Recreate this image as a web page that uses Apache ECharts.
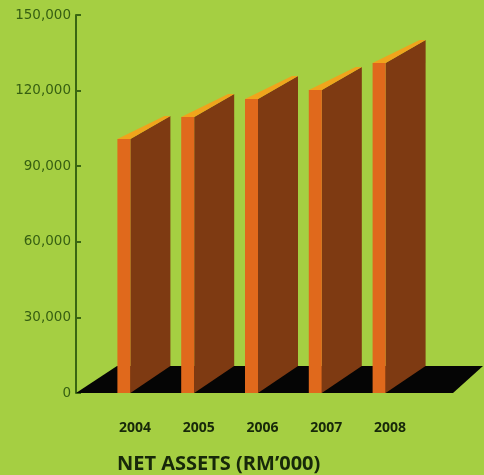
<!DOCTYPE html>
<html>
<head>
<meta charset="utf-8">
<script src="https://cdn.jsdelivr.net/npm/echarts@6/dist/echarts.min.js"></script>
<style>
    html, body { margin: 0; padding: 0; background: #a5cf42; }
    #chart { width: 484px; height: 475px; }
</style>
</head>
<body>
<div id="chart"></div>
<script>
// data
const years = ['2004', '2005', '2006', '2007', '2008'];
const net_assets = [100800, 109500, 116700, 120200, 131000];
const y_ticks = [0, 30000, 60000, 90000, 120000, 150000];

const colors = {
    bg: '#a5cf42',
    front: '#e0691c',
    side: '#7e3a12',
    top: '#f0a41c',
    floor: '#050505',
    axis: '#3a6612',
    tick_label: '#365f12',
    text: '#17280a'
};

// bar shape (pixels)
const front_w = 13;
const front_off = -17.5;
const depth_x = 40;
const depth_y_top = 23;
const depth_y_bottom = 27;

function render_bar(params, api) {
    let top = api.coord([api.value(0), api.value(1)]);
    let base = api.coord([api.value(0), 0]);
    let fl = top[0] + front_off;
    let fr = fl + front_w;
    let t = top[1];
    let b = base[1];
    return {
        type: 'group',
        children: [
            {
                type: 'polygon',
                shape: { points: [[fr, t], [fr + depth_x, t - depth_y_top], [fr + depth_x, b - depth_y_bottom], [fr, b]] },
                style: { fill: colors.side }
            },
            {
                type: 'polygon',
                shape: { points: [[fl, t], [fr, t], [fr, b], [fl, b]] },
                style: { fill: colors.front }
            },
            {
                type: 'polygon',
                shape: { points: [[fl, t], [fr, t], [fr + depth_x, t - depth_y_top], [fr + depth_x - 6, t - depth_y_top]] },
                style: { fill: colors.top }
            }
        ]
    };
}

function render_floor(params, api) {
    let cs = params.coordSys;
    let y0 = cs.y + cs.height;
    let left = cs.x - 27;
    let right = cs.x + cs.width;
    return {
        type: 'polygon',
        shape: {
            points: [
                [left, y0],
                [right + 31, y0],
                [right + 61, y0 - depth_y_bottom],
                [left + 41, y0 - depth_y_bottom]
            ]
        },
        style: { fill: colors.floor }
    };
}

let chart = echarts.init(document.getElementById('chart'));
chart.setOption({
    backgroundColor: colors.bg,
    animation: false,
    title: {
        text: 'NET ASSETS (RM’000)',
        left: 117,
        top: 454,
        padding: 0,
        textStyle: {
            fontFamily: 'Open Sans',
            fontWeight: 'bold',
            fontSize: 20,
            color: colors.text
        }
    },
    grid: {
        left: 103,
        right: 62,
        top: 15,
        bottom: 82
    },
    xAxis: {
        type: 'category',
        data: years,
        axisLine: { show: false },
        axisTick: { show: false },
        axisLabel: {
            margin: 28,
            fontFamily: 'Open Sans',
            fontWeight: 'bold',
            fontSize: 14,
            color: colors.text
        }
    },
    yAxis: {
        type: 'value',
        min: y_ticks[0],
        max: y_ticks[y_ticks.length - 1],
        interval: y_ticks[1] - y_ticks[0],
        offset: 27,
        axisLine: { show: true, lineStyle: { color: colors.axis, width: 2 } },
        axisTick: { show: true, inside: true, length: 5, lineStyle: { color: colors.axis, width: 2 } },
        splitLine: { show: false },
        axisLabel: {
            margin: 5,
            fontFamily: 'DejaVu Sans',
            fontSize: 13.5,
            color: colors.tick_label,
            formatter: function (v) { return v.toLocaleString('en-US'); }
        }
    },
    series: [
        {
            type: 'custom',
            z: 1,
            silent: true,
            renderItem: render_floor,
            data: [[0, 0]]
        },
        {
            type: 'custom',
            z: 2,
            renderItem: render_bar,
            encode: { x: 0, y: 1 },
            data: years.map((y, i) => [i, net_assets[i]])
        }
    ]
});
</script>
</body>
</html>
